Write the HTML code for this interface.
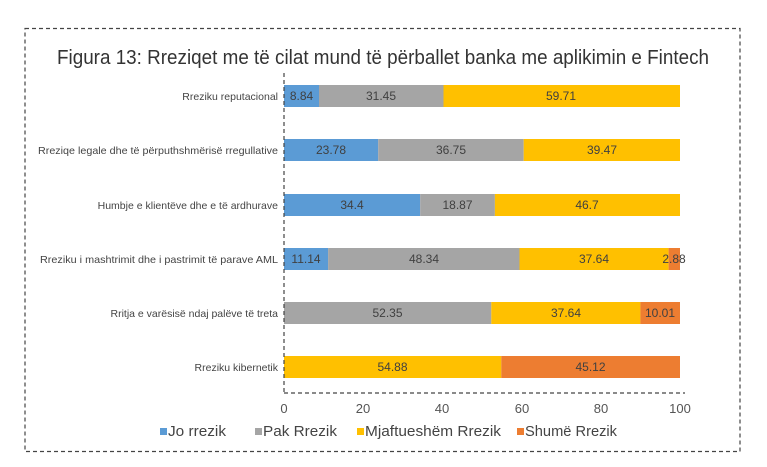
<!DOCTYPE html>
<html><head><meta charset="utf-8"><style>
html,body{margin:0;padding:0;background:#fff;}
svg{display:block;font-family:"Liberation Sans",sans-serif;}
</style></head><body>
<svg width="767" height="467" viewBox="0 0 767 467" xmlns="http://www.w3.org/2000/svg">
<rect x="25" y="28.5" width="715" height="423" fill="none" stroke="#444" stroke-width="1.2" stroke-dasharray="4,3"/>
<text x="383" y="64" text-anchor="middle" font-size="20" fill="#333" textLength="652" lengthAdjust="spacingAndGlyphs">Figura 13: Rreziqet me të cilat mund të përballet banka me aplikimin e Fintech</text>
<g font-size="10.5" fill="#444" text-anchor="end">
<text x="278" y="100">Rreziku reputacional</text>
<text x="278" y="154" textLength="240" lengthAdjust="spacingAndGlyphs">Rreziqe legale dhe të përputhshmërisë rregullative</text>
<text x="278" y="209">Humbje e klientëve dhe e të ardhurave</text>
<text x="278" y="263" textLength="238" lengthAdjust="spacingAndGlyphs">Rreziku i mashtrimit dhe i pastrimit të parave AML</text>
<text x="278" y="317">Rritja e varësisë ndaj palëve të treta</text>
<text x="278" y="371">Rreziku kibernetik</text>
</g>
<g>
<rect x="284" y="85" width="35" height="22" fill="#5b9bd5"/>
<rect x="319" y="85" width="124.5" height="22" fill="#a5a5a5"/>
<rect x="443.5" y="85" width="236.5" height="22" fill="#ffc000"/>

<rect x="284" y="139" width="94.2" height="22" fill="#5b9bd5"/>
<rect x="378.2" y="139" width="145.5" height="22" fill="#a5a5a5"/>
<rect x="523.7" y="139" width="156.3" height="22" fill="#ffc000"/>

<rect x="284" y="194" width="136.2" height="22" fill="#5b9bd5"/>
<rect x="420.2" y="194" width="74.7" height="22" fill="#a5a5a5"/>
<rect x="494.9" y="194" width="185.1" height="22" fill="#ffc000"/>

<rect x="284" y="248" width="44.1" height="22" fill="#5b9bd5"/>
<rect x="328.1" y="248" width="191.4" height="22" fill="#a5a5a5"/>
<rect x="519.5" y="248" width="149.1" height="22" fill="#ffc000"/>
<rect x="668.6" y="248" width="11.4" height="22" fill="#ed7d31"/>

<rect x="284" y="302" width="207.3" height="22" fill="#a5a5a5"/>
<rect x="491.3" y="302" width="149.1" height="22" fill="#ffc000"/>
<rect x="640.4" y="302" width="39.6" height="22" fill="#ed7d31"/>

<rect x="284" y="356" width="217.3" height="22" fill="#ffc000"/>
<rect x="501.3" y="356" width="178.7" height="22" fill="#ed7d31"/>
</g>
<g font-size="12" fill="#404040" text-anchor="middle">
<text x="301.5" y="100">8.84</text><text x="381" y="100">31.45</text><text x="561" y="100">59.71</text>
<text x="331" y="154">23.78</text><text x="451" y="154">36.75</text><text x="602" y="154">39.47</text>
<text x="352" y="209">34.4</text><text x="457.5" y="209">18.87</text><text x="587" y="209">46.7</text>
<text x="306" y="263">11.14</text><text x="424" y="263">48.34</text><text x="594" y="263">37.64</text><text x="674" y="263">2.88</text>
<text x="387.5" y="317">52.35</text><text x="566" y="317">37.64</text><text x="660" y="317">10.01</text>
<text x="392.5" y="371">54.88</text><text x="590.5" y="371">45.12</text>
</g>
<line x1="284" y1="73" x2="284" y2="393" stroke="#444" stroke-width="1.2" stroke-dasharray="4,3"/>
<line x1="284" y1="393" x2="685" y2="393" stroke="#444" stroke-width="1.2" stroke-dasharray="4,3"/>
<g font-size="13" fill="#555" text-anchor="middle">
<text x="284" y="413">0</text><text x="363" y="413">20</text><text x="442" y="413">40</text>
<text x="522" y="413">60</text><text x="601" y="413">80</text><text x="680" y="413">100</text>
</g>
<g font-size="15" fill="#444">
<rect x="160" y="428" width="7" height="7" fill="#5b9bd5"/><text x="168" y="436" textLength="58" lengthAdjust="spacingAndGlyphs">Jo rrezik</text>
<rect x="255" y="428" width="7" height="7" fill="#a5a5a5"/><text x="263" y="436" textLength="74" lengthAdjust="spacingAndGlyphs">Pak Rrezik</text>
<rect x="357" y="428" width="7" height="7" fill="#ffc000"/><text x="365" y="436" textLength="136" lengthAdjust="spacingAndGlyphs">Mjaftueshëm Rrezik</text>
<rect x="517" y="428" width="7" height="7" fill="#ed7d31"/><text x="525" y="436" textLength="92" lengthAdjust="spacingAndGlyphs">Shumë Rrezik</text>
</g>
</svg>
</body></html>
